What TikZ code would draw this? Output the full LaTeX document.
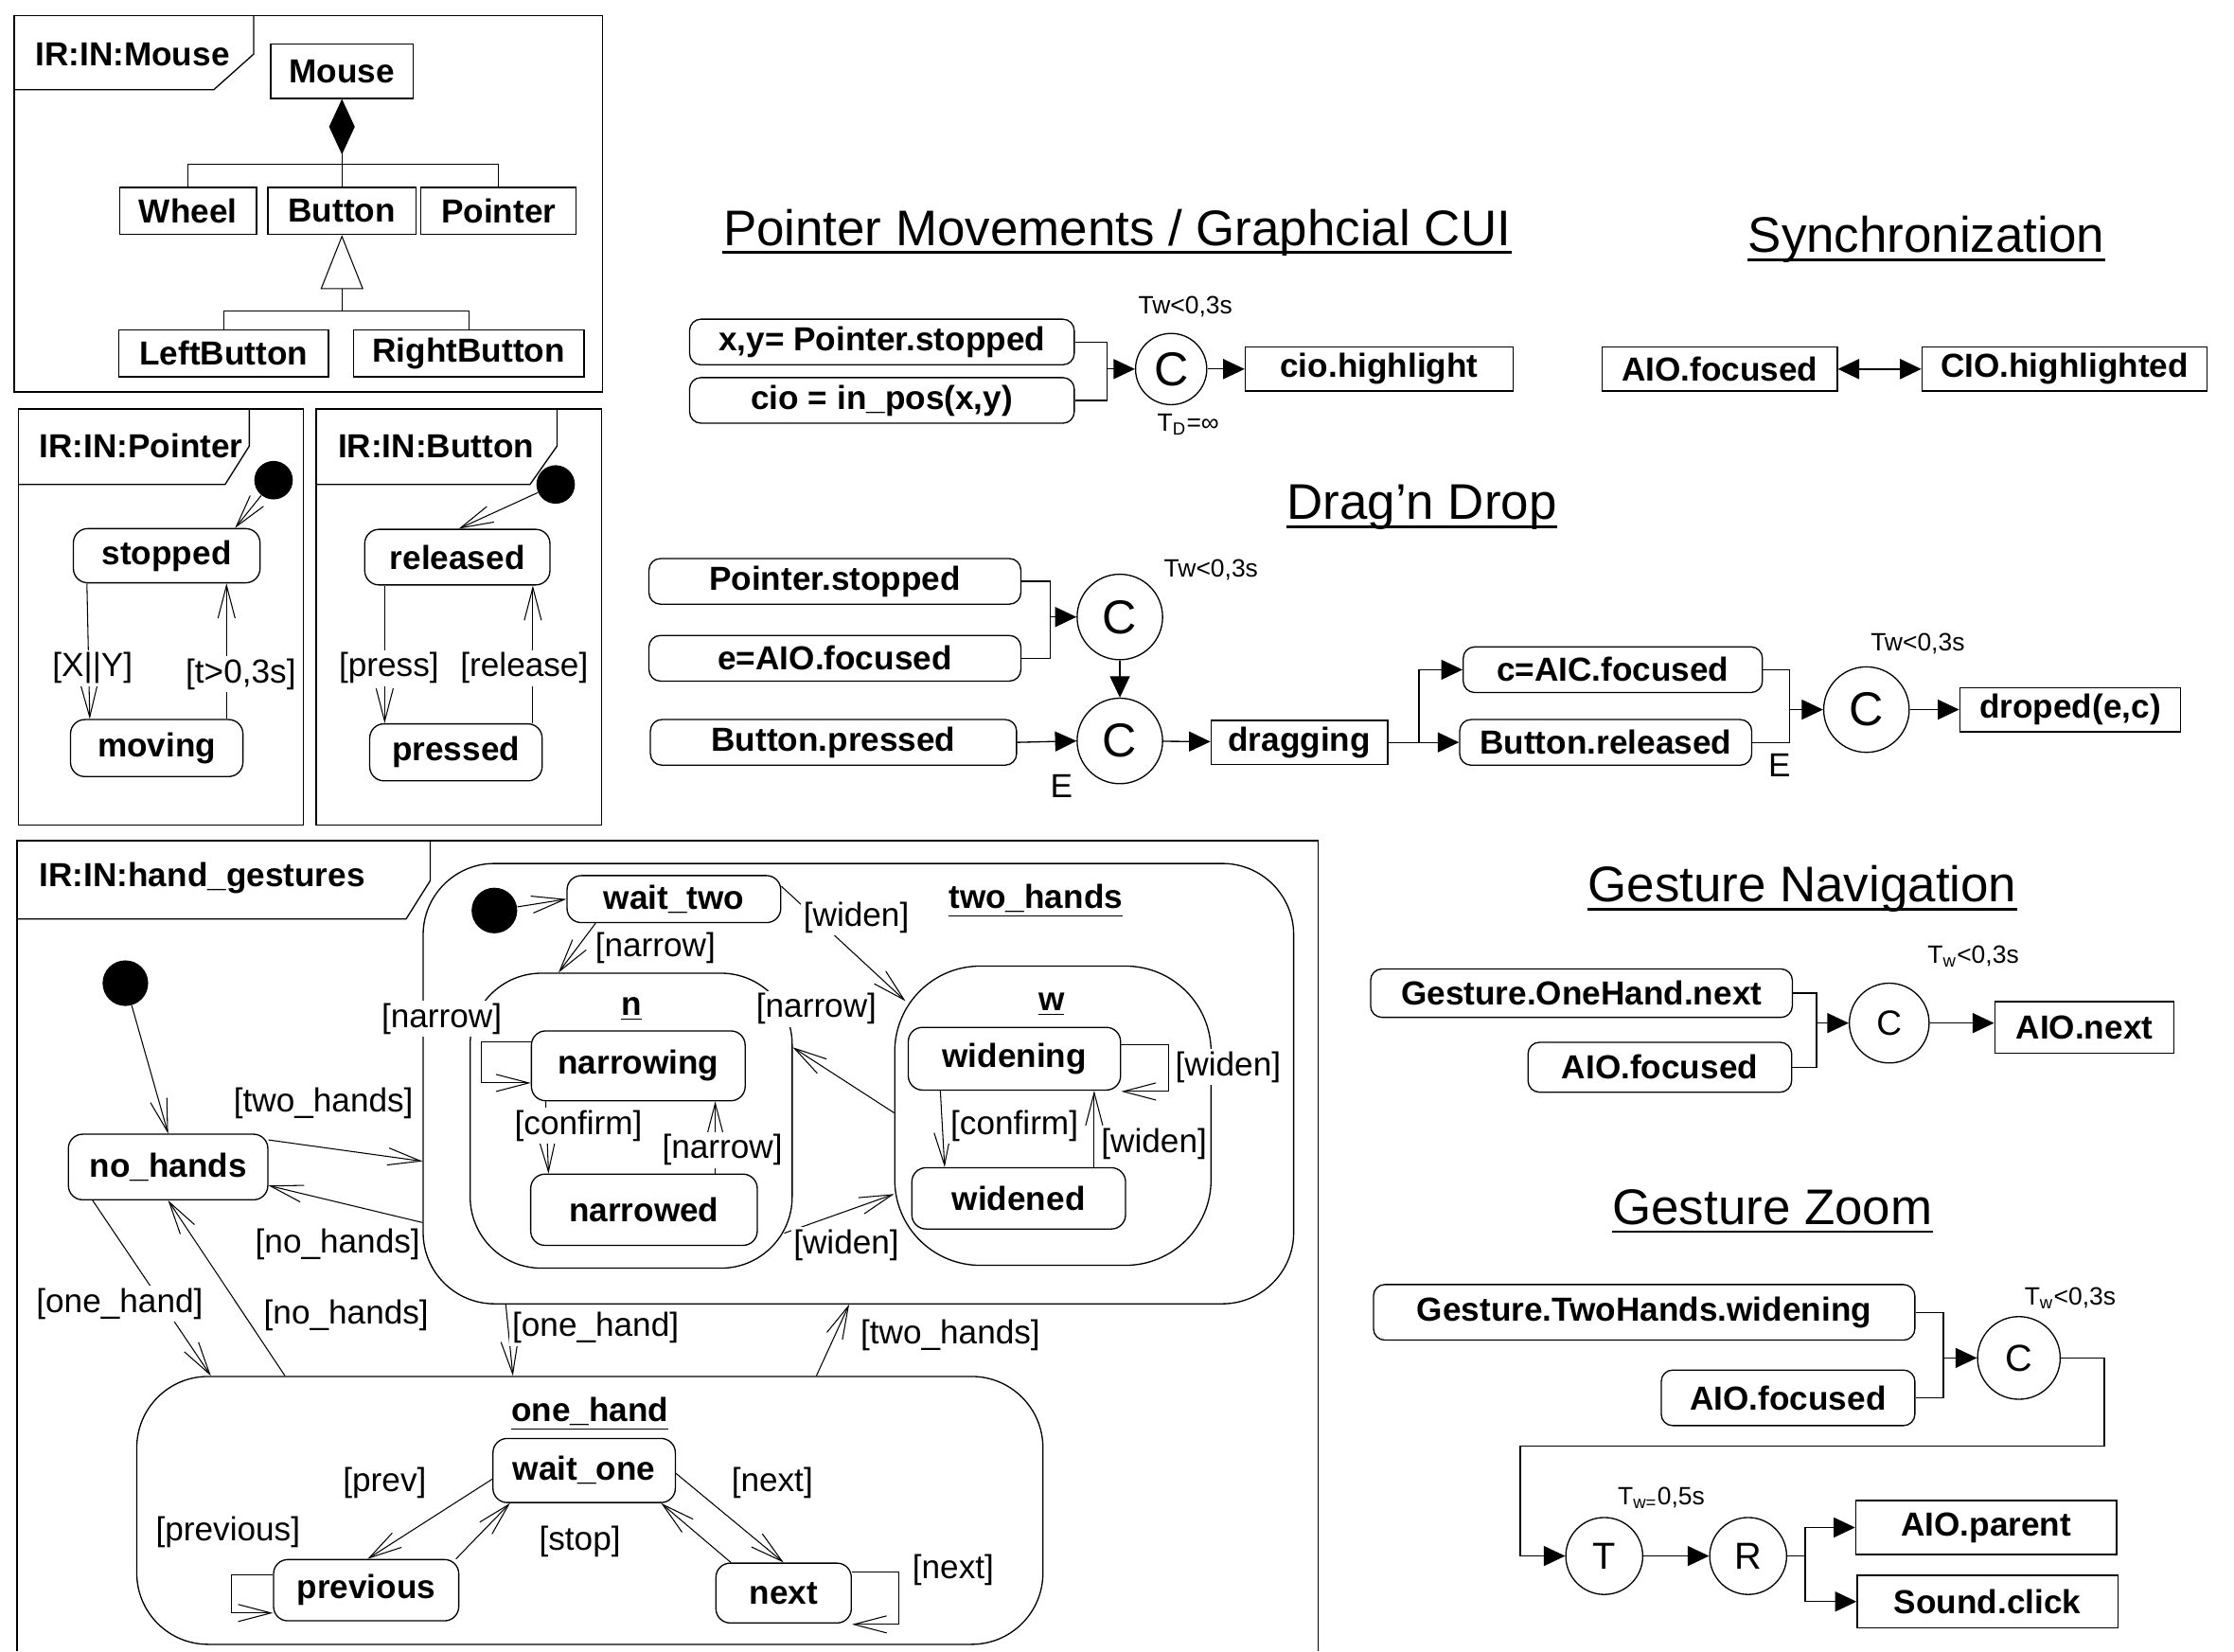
\documentclass[tikz,border=0pt]{standalone}
\usepackage{fontspec}
\setmainfont{Liberation Sans}
\usepackage{tikz}
\usetikzlibrary{arrows.meta, fit}

\newcommand{\pxu}{0.2mm}
\newcommand{\nsz}{\fontsize{13.3}{16}\selectfont}

\begin{document}
\begin{tikzpicture}[x=0.2mm, y=-0.2mm, font=\nsz,
    frm/.style={line width=0.5pt},
    hdr/.style={font=\nsz\bfseries, inner sep=0pt},
    cls/.style={draw, line width=0.5pt, font=\nsz\bfseries, inner sep=0pt, minimum height=33*\pxu},
    st/.style={draw, line width=0.5pt, rounded corners=2mm, fill=white, font=\nsz\bfseries, inner sep=0pt},
    comp/.style={draw, line width=0.5pt, rounded corners=10mm, inner sep=0pt},
    ctitle/.style={font=\nsz\bfseries, inner sep=0pt},
    ini/.style={circle, fill=black, inner sep=0pt, minimum size=27*\pxu},
    trans/.style={line width=0.4pt, -{Straight Barb[length=4.6mm, width=2.4mm]}},
    lbl/.style={fill=white, inner sep=1pt},
    evt/.style={draw, line width=0.5pt, rounded corners=1.6mm, font=\nsz\bfseries, inner sep=0pt, minimum height=32*\pxu},
    act/.style={draw, line width=0.5pt, font=\nsz\bfseries, inner sep=0pt, minimum height=31*\pxu},
    op/.style={draw, circle, line width=0.5pt, inner sep=0pt},
    flow/.style={line width=0.5pt, -{Triangle[length=3mm, width=2.8mm]}},
    ttl/.style={font=\fontsize{20}{24}\selectfont, inner sep=0pt},
    note/.style={font=\fontsize{10}{12}\selectfont, inner sep=0pt},
  ]
  \useasboundingbox (0,0) rectangle (1568,1159);

  % IR:IN:Mouse
  \draw[frm] (10,11) rectangle (423,275);
  \draw[frm] (10,63) -- (150,63) -- (178,38) -- (178,11);
  \node[hdr] (mouseHdr) at (93,38) {IR:IN:Mouse};
  \node[cls, minimum width=100*\pxu, minimum height=38*\pxu] (mouse) at (240,50) {Mouse};
  \node[cls, minimum width=96*\pxu] (wheel) at (132,148) {Wheel};
  \node[cls, minimum width=104*\pxu] (button) at (240,148) {Button};
  \node[cls, minimum width=109*\pxu] (pointer) at (350,148) {Pointer};
  \node[cls, minimum width=147*\pxu] (leftbtn) at (157,248) {LeftButton};
  \node[cls, minimum width=162*\pxu] (rightbtn) at (329,248) {RightButton};
  \draw[line width=0.4pt, {Diamond[length=7.8mm, width=3.6mm]}-] (mouse.south) -- (button.north);
  \draw[line width=0.4pt] (wheel.north) |- (mouse.south |- 0,115) -| (pointer.north);
  \draw[line width=0.4pt, {Triangle[open, length=7.6mm, width=6mm]}-] (button.south) -- (button.south |- 0,218);
  \draw[line width=0.4pt] (leftbtn.north) |- (button.south |- 0,218) -| (rightbtn.north);

  % IR:IN:Pointer
  \draw[frm] (13,287) rectangle (213,579);
  \draw[frm] (13,340) -- (158,340) -- (175,313) -- (175,287);
  \node[hdr] (pointerHdr) at (99,313) {IR:IN:Pointer};
  \node[ini] (pIni) at (192,337) {};
  \node[st, minimum width=131*\pxu, minimum height=38*\pxu] (stopped) at (117,390) {stopped};
  \node[st, minimum width=121*\pxu, minimum height=40*\pxu] (moving) at (110,525) {moving};
  \draw[trans] (pIni) -- (165,0 |- stopped.north);
  \draw[trans] (stopped.south -| 61,0) -- (moving.north -| 63,0);
  \draw[trans] (moving.north -| 159,0) -- (stopped.south -| 159,0);
  \node[lbl] (lXY) at (65,469) {[X||Y]};
  \node[lbl] (lT) at (169,473) {[t>0,3s]};

  % IR:IN:Button
  \draw[frm] (222,287) rectangle (422,579);
  \draw[frm] (222,340) -- (372,340) -- (391,313) -- (391,287);
  \node[hdr] (buttonHdr) at (306,313) {IR:IN:Button};
  \node[ini] (bIni) at (390,340) {};
  \node[st, minimum width=130*\pxu, minimum height=39*\pxu] (released) at (321,391) {released};
  \node[st, minimum width=121*\pxu, minimum height=40*\pxu] (pressed) at (320,528) {pressed};
  \draw[trans] (bIni) -- (322,0 |- released.north);
  \draw[trans] (released.south -| 270,0) -- (pressed.north -| 270,0);
  \draw[trans] (pressed.north -| 374,0) -- (released.south -| 374,0);
  \node[lbl] (lPress) at (273,469) {[press]};
  \node[lbl] (lRelease) at (368,469) {[release]};

  % IR:IN:hand_gestures
  \draw[frm] (12,1159) -- (12,590) -- (925,590) -- (925,1159);
  \draw[frm] (12,645) -- (285,645) -- (302,618) -- (302,590);
  \node[hdr] (handHdr) at (142,616) {IR:IN:hand\_gestures};
  \node[comp, fit={(297,606) (908,915)}] (twohands) {};
  \node[comp, fit={(330,683) (556,890)}] (nComp) {};
  \node[comp, rounded corners=12mm, fit={(628,678) (850,888)}] (wComp) {};
  \node[comp, fit={(96,966) (732,1154)}] (onehand) {};
  \node[ctitle] (twohandsT) at (727,632) {\underline{two\_hands}};
  \node[ctitle] (nT) at (443,708) {\underline{n}};
  \node[ctitle] (wT) at (738,705) {\underline{w}};
  \node[ctitle] (onehandT) at (414,992) {\underline{one\_hand}};
  \node[ini, minimum size=32*\pxu] (hIni) at (88,690) {};
  \node[ini, minimum size=32*\pxu] (tIni) at (347,639) {};
  \node[st, minimum width=140*\pxu, minimum height=46*\pxu] (nohands) at (118,819) {no\_hands};
  \node[st, minimum width=150*\pxu, minimum height=33*\pxu] (waittwo) at (473,631) {wait\_two};
  \node[st, minimum width=150*\pxu, minimum height=49*\pxu] (narrowing) at (448,748) {narrowing};
  \node[st, minimum width=159*\pxu, minimum height=50*\pxu] (narrowed) at (452,849) {narrowed};
  \node[st, minimum width=149*\pxu, minimum height=44*\pxu] (widening) at (712,743) {widening};
  \node[st, minimum width=150*\pxu, minimum height=43*\pxu] (widened) at (715,841) {widened};
  \node[st, minimum width=128*\pxu, minimum height=45*\pxu] (waitone) at (410,1032) {wait\_one};
  \node[st, minimum width=130*\pxu, minimum height=43*\pxu] (previous) at (257,1116) {previous};
  \node[st, minimum width=95*\pxu, minimum height=42*\pxu] (next) at (550,1118) {next};

  \draw[trans] (hIni) -- (nohands.north);
  \draw[trans] (nohands.east |- 0,800) -- (twohands.west |- 0,815);
  \draw[trans] (twohands.west |- 0,858) -- (nohands.east |- 0,832);
  \draw[trans] (nohands.south -| 65,0) -- (onehand.north -| 148,0);
  \draw[trans] (onehand.north -| 200,0) -- (nohands.south);
  \draw[trans] (twohands.south -| 355,0) -- (onehand.north -| 360,0);
  \draw[trans] (onehand.north -| 573,0) -- (twohands.south -| 596,0);
  \draw[trans] (tIni) -- (waittwo.west);
  \draw[trans] (waittwo.south -| 418,0) -- (nComp.north -| 392,0);
  \draw[trans] (waittwo.east |- 0,622) -- ([shift={(8,25)}]wComp.north west);
  \draw[trans] (wComp.west |- 0,781) -- (nComp.east |- 0,735);
  \draw[trans] ([shift={(-6,-25)}]nComp.south east) -- (wComp.west |- 0,838);
  \draw[trans] (narrowing.west |- 0,731) -- ++(-35,0) -- ++(0,29) -- (narrowing.west |- 0,760);
  \draw[trans] (narrowing.south -| 383,0) -- (narrowed.north -| 385,0);
  \draw[trans] (narrowed.north -| 502,0) -- (narrowing.south -| 502,0);
  \draw[trans] (widening.east |- 0,733) -- ++(33,0) -- ++(0,33) -- (widening.east |- 0,766);
  \draw[trans] (widening.south -| 660,0) -- (widened.north -| 663,0);
  \draw[trans] (widened.north -| 768,0) -- (widening.south -| 768,0);
  \draw[trans] (waitone.west |- 0,1038) -- (previous.north -| 258,0);
  \draw[trans] (previous.north -| 320,0) -- (waitone.south -| 358,0);
  \draw[trans] (waitone.east |- 0,1034) -- (next.north);
  \draw[trans] (next.north -| 513,0) -- (waitone.south -| 464,0);
  \draw[trans] (previous.west |- 0,1105) -- ++(-29,0) -- ++(0,27) -- (previous.west |- 0,1132);
  \draw[trans] (next.east |- 0,1103) -- ++(33,0) -- ++(0,37) -- (next.east |- 0,1140);

  \node[lbl] (lTwo1) at (227,774) {[two\_hands]};
  \node[lbl] (lNo1) at (237,873) {[no\_hands]};
  \node[lbl] (lOne1) at (84,915) {[one\_hand]};
  \node[lbl] (lNo2) at (243,923) {[no\_hands]};
  \node[lbl] (lOne2) at (418,932) {[one\_hand]};
  \node[lbl] (lTwo2) at (667,937) {[two\_hands]};
  \node[lbl] (lNarrow1) at (460,665) {[narrow]};
  \node[lbl] (lWiden1) at (601,644) {[widen]};
  \node[lbl] (lNarrow2) at (310,715) {[narrow]};
  \node[lbl] (lNarrow3) at (573,708) {[narrow]};
  \node[lbl] (lConfirm1) at (406,790) {[confirm]};
  \node[lbl] (lNarrow4) at (507,807) {[narrow]};
  \node[lbl] (lWiden2) at (594,874) {[widen]};
  \node[lbl] (lWiden3) at (862,749) {[widen]};
  \node[lbl] (lConfirm2) at (712,790) {[confirm]};
  \node[lbl] (lWiden4) at (810,803) {[widen]};
  \node[lbl] (lPrev) at (270,1041) {[prev]};
  \node[lbl] (lPrevious) at (160,1075) {[previous]};
  \node[lbl] (lStop) at (407,1082) {[stop]};
  \node[lbl] (lNext1) at (542,1041) {[next]};
  \node[lbl] (lNext2) at (669,1102) {[next]};

  % Pointer Movements
  \node[ttl] (pmTitle) at (784,163) {Pointer Movements / Graphcial CUI};
  \draw[line width=1.1pt] ([yshift=-3pt]pmTitle.base west) -- ([yshift=-3pt]pmTitle.base east);
  \node[evt, minimum width=270*\pxu] (xyStopped) at (619,240) {x,y= Pointer.stopped};
  \node[evt, minimum width=270*\pxu] (cioPos) at (619,281) {cio = in\_pos(x,y)};
  \node[op, minimum size=50*\pxu, font=\fontsize{19}{19}\selectfont] (cPm) at (822,259) {C};
  \node[act, minimum width=188*\pxu] (cioHl) at (968,259) {cio.highlight};
  \node[note] (twPm) at (832,215) {Tw<0,3s};
  \node[note] (tdPm) at (834,298) {T\textsubscript{D}=∞};
  \coordinate (jPm) at (777,259);
  \draw[line width=0.5pt] (xyStopped.east) -| (jPm) |- (cioPos.east);
  \draw[flow] (jPm) -- (cPm);
  \draw[flow] (cPm) -- (cioHl);

  % Synchronization
  \node[ttl] (syTitle) at (1352,168) {Synchronization};
  \draw[line width=1.1pt] ([yshift=-3pt]syTitle.base west) -- ([yshift=-3pt]syTitle.base east);
  \node[act, minimum width=165*\pxu] (aioSync) at (1207,259) {AIO.focused};
  \node[act, minimum width=200*\pxu] (cioSync) at (1449,259) {CIO.highlighted};
  \draw[line width=0.8pt, {Triangle[length=3mm, width=2.8mm]}-{Triangle[length=3mm, width=2.8mm]}] (aioSync) -- (cioSync);

  % Drag'n Drop
  \node[ttl] (ddTitle) at (998,356) {Drag’n Drop};
  \draw[line width=1.1pt] ([yshift=-3pt]ddTitle.base west) -- ([yshift=-3pt]ddTitle.base east);
  \node[evt, minimum width=261*\pxu] (ptStop) at (586,408) {Pointer.stopped};
  \node[evt, minimum width=261*\pxu] (eAio) at (586,462) {e=AIO.focused};
  \node[evt, minimum width=257*\pxu] (btnPr) at (585,521) {Button.pressed};
  \node[op, minimum size=60*\pxu, font=\fontsize{19}{19}\selectfont] (cDd1) at (786,433) {C};
  \node[op, minimum size=60*\pxu, font=\fontsize{19}{19}\selectfont] (cDd2) at (786,520) {C};
  \node[note] (twDd1) at (850,400) {Tw<0,3s};
  \coordinate (jDd1) at (737,433);
  \draw[line width=0.5pt] (ptStop.east) -| (jDd1) |- (eAio.east);
  \draw[flow] (jDd1) -- (cDd1);
  \draw[flow] (cDd1) -- (cDd2);
  \draw[flow] (btnPr.east) -- (cDd2.west);
  \node (eDd1) at (745,552) {E};
  \node[act, minimum width=124*\pxu] (dragging) at (912,521) {dragging};
  \draw[flow] (cDd2) -- (dragging);
  \node[evt, minimum width=210*\pxu] (cAic) at (1132,470) {c=AIC.focused};
  \node[evt, minimum width=205*\pxu] (btnRel) at (1127,521) {Button.released};
  \coordinate (jDd2) at (996,521);
  \draw[line width=0.5pt] (dragging.east) -- (jDd2);
  \draw[flow] (jDd2) |- (cAic.west);
  \draw[flow] (jDd2) -- (btnRel.west);
  \node[op, minimum size=60*\pxu, font=\fontsize{19}{19}\selectfont] (cDd3) at (1310,498) {C};
  \coordinate (jDd3) at (1256,498);
  \draw[line width=0.5pt] (cAic.east) -| (jDd3) |- (btnRel.east);
  \draw[flow] (jDd3) -- (cDd3);
  \node (eDd2) at (1249,537) {E};
  \node[note] (twDd2) at (1346,452) {Tw<0,3s};
  \node[act, minimum width=155*\pxu] (dropped) at (1453,498) {droped(e,c)};
  \draw[flow] (cDd3) -- (dropped);

  % Gesture Navigation
  \node[ttl] (gnTitle) at (1265,624) {Gesture Navigation};
  \draw[line width=1.1pt] ([yshift=-3pt]gnTitle.base west) -- ([yshift=-3pt]gnTitle.base east);
  \node[evt, minimum width=296*\pxu, minimum height=34*\pxu] (gOne) at (1110,697) {Gesture.OneHand.next};
  \node[evt, minimum width=185*\pxu, minimum height=35*\pxu] (aioNav) at (1165,749) {AIO.focused};
  \node[op, minimum size=56*\pxu, font=\fontsize{14}{14}\selectfont] (cNav) at (1326,718) {C};
  \node[note] (twNav) at (1385,671) {T\textsubscript{w}<0,3s};
  \node[act, minimum width=126*\pxu, minimum height=36*\pxu] (aioNext) at (1463,721) {AIO.next};
  \coordinate (jNav) at (1275,718);
  \draw[line width=0.5pt] (gOne.east) -| (jNav) |- (aioNav.east);
  \draw[flow] (jNav) -- (cNav);
  \draw[flow] (cNav.east) -- (aioNext.west |- cNav.east);

  % Gesture Zoom
  \node[ttl] (gzTitle) at (1244,847) {Gesture Zoom};
  \draw[line width=1.1pt] ([yshift=-3pt]gzTitle.base west) -- ([yshift=-3pt]gzTitle.base east);
  \node[evt, minimum width=380*\pxu, minimum height=39*\pxu] (gTwo) at (1154,921) {Gesture.TwoHands.widening};
  \node[evt, minimum width=178*\pxu, minimum height=39*\pxu] (aioZoom) at (1255,981) {AIO.focused};
  \node[op, minimum size=58*\pxu, font=\fontsize{15}{15}\selectfont] (cZoom) at (1417,953) {C};
  \node[note] (twZoom) at (1453,911) {T\textsubscript{w}<0,3s};
  \coordinate (jZoom) at (1364,953);
  \draw[line width=0.5pt] (gTwo.east) -| (jZoom) |- (aioZoom.east);
  \draw[flow] (jZoom) -- (cZoom);
  \node[op, minimum size=54*\pxu, font=\fontsize{15}{15}\selectfont] (tOp) at (1126,1092) {T};
  \node[op, minimum size=54*\pxu, font=\fontsize{15}{15}\selectfont] (rOp) at (1227,1092) {R};
  \node[note] (twT) at (1166,1051) {T\textsubscript{w=}0,5s};
  \draw[flow] (cZoom.east) -| (1477,1015) -- (1067,1015) |- (tOp.west);
  \draw[flow] (tOp) -- (rOp);
  \node[act, minimum width=183*\pxu, minimum height=38*\pxu] (aioParent) at (1394,1072) {AIO.parent};
  \node[act, minimum width=183*\pxu, minimum height=37*\pxu] (soundClick) at (1395,1124) {Sound.click};
  \coordinate (jZoom2) at (1267,1092);
  \draw[line width=0.5pt] (rOp.east) -- (jZoom2);
  \draw[flow] (jZoom2) |- (aioParent.west);
  \draw[flow] (jZoom2) |- (soundClick.west);
\end{tikzpicture}
\end{document}
